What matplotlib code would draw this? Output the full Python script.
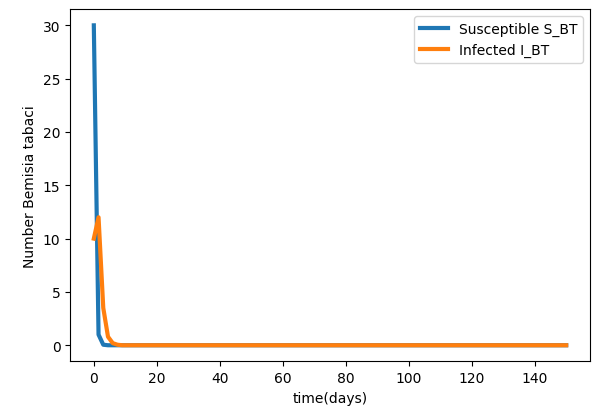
'''
Susceptible / infected Bemisia tabaci over time
'''
import matplotlib
matplotlib.use('Agg')
import matplotlib.pyplot as plt

days = [0, 1.5, 3, 4.5, 6, 7.5, 9, 150]
susceptible = [30.0, 1.0, 0.05, 0.0, 0.0, 0.0, 0.0, 0.0]
infected = [10.0, 12.0, 3.5, 0.8, 0.2, 0.05, 0.0, 0.0]

fig = plt.figure(figsize=(6.0, 4.14), dpi=100)
ax = fig.add_axes([0.117, 0.125, 0.866, 0.85])
ax.plot(days, susceptible, linewidth=3, label='Susceptible S_BT')
ax.plot(days, infected, linewidth=3, label='Infected I_BT')
ax.set_xlabel('time(days)')
ax.set_ylabel('Number Bemisia tabaci')
ax.legend(loc='upper right')
fig.savefig('out.png')
